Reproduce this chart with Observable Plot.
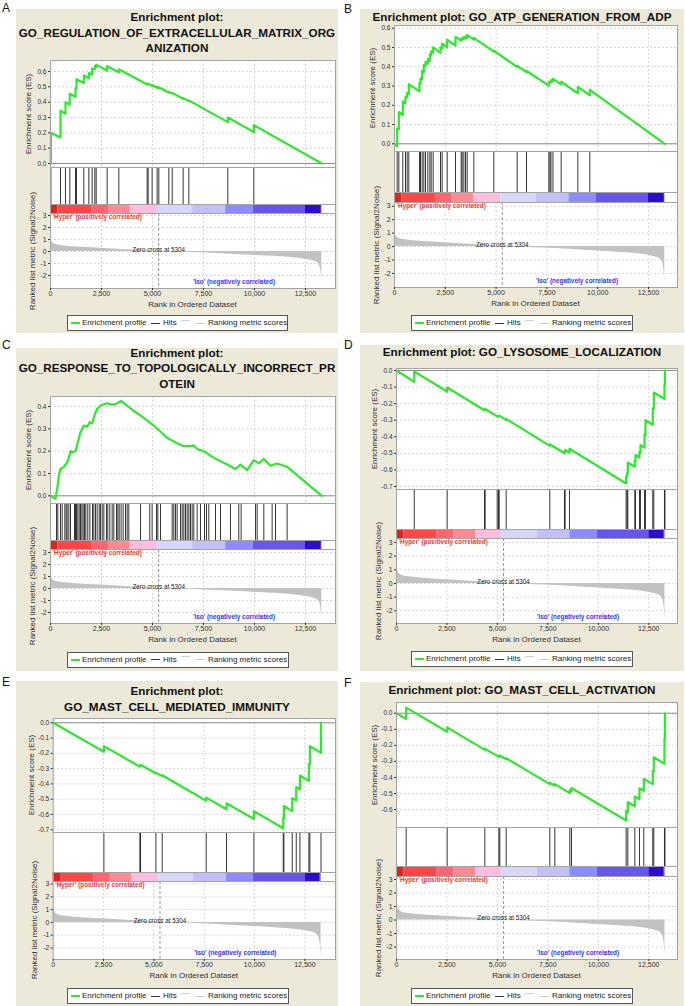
<!DOCTYPE html>
<html><head><meta charset="utf-8">
<script src="https://cdn.jsdelivr.net/npm/d3@7"></script>
<script src="https://cdn.jsdelivr.net/npm/@observablehq/plot@0.6"></script>
<style>
body{margin:0;background:#fff;font-family:"Liberation Sans",Arial,sans-serif;}
#root{position:relative;width:685px;height:1006px;overflow:hidden;background:#fff;}
</style></head><body><div id="root"></div>
<script>
// ---------------- DATA ----------------
const xTicks = [0, 2500, 5000, 7500, 10000, 12500];
const rankTicks = [-2, -1, 0, 1, 2, 3];
const esTicksA = [0, 0.1, 0.2, 0.3, 0.4, 0.5, 0.6];
const esTicksB = [0, 0.1, 0.2, 0.3, 0.4, 0.5, 0.6];
const esTicksC = [0, 0.1, 0.2, 0.3, 0.4];
const esTicksD = [0, -0.1, -0.2, -0.3, -0.4, -0.5, -0.6, -0.7];
const esTicksE = [0, -0.1, -0.2, -0.3, -0.4, -0.5, -0.6, -0.7];
const esTicksF = [0, -0.1, -0.2, -0.3, -0.4, -0.5, -0.6];
const zeroCross = 5304;
const listSize = 13300;

const titleA = ["Enrichment plot:", "GO_REGULATION_OF_EXTRACELLULAR_MATRIX_ORG", "ANIZATION"];
const titleB = ["Enrichment plot: GO_ATP_GENERATION_FROM_ADP"];
const titleC = ["Enrichment plot:", "GO_RESPONSE_TO_TOPOLOGICALLY_INCORRECT_PR", "OTEIN"];
const titleD = ["Enrichment plot: GO_LYSOSOME_LOCALIZATION"];
const titleE = ["Enrichment plot:", "GO_MAST_CELL_MEDIATED_IMMUNITY"];
const titleF = ["Enrichment plot: GO_MAST_CELL_ACTIVATION"];

// ranked list metric (Signal2Noise)
const metricRank  = [0, 40, 82, 160, 245, 450, 817, 1634, 2451, 3300, 4085, 4902, 5304, 6300, 7353, 8987, 10621, 11765, 12582, 13000, 13150, 13230, 13270, 13300];
const metricValue = [1.2, 0.95, 0.8, 0.68, 0.6, 0.52, 0.45, 0.35, 0.28, 0.2, 0.13, 0.05, 0, -0.05, -0.11, -0.24, -0.38, -0.5, -0.68, -0.85, -1.05, -1.4, -1.9, -2.75];

// heat-map bar under the hits
const barBreaks = [0, 363, 2015, 2840, 3913, 5235, 6968, 8586, 9940, 12500, 13243, 13300];
const barColors = ["#dd2424", "#ff4646", "#ff6470", "#ff8a92", "#fcbde0", "#d7d7fb", "#c3bff9", "#8a8cff", "#6656ee", "#2c0cd0", "#5a14a6"];

// hits (rank positions of gene-set members)
const hitsA = [20, 490, 735, 947, 1226, 1274, 1634, 1879, 2042, 2173, 2239, 2778, 3349, 4738, 4787, 4983, 5228, 5310, 5800, 5964, 6502, 6781, 8693, 9967];
const hitsB = [131, 213, 410, 541, 623, 705, 1230, 1280, 1362, 1444, 1526, 1640, 1739, 1804, 1903, 2264, 2346, 2592, 3002, 3281, 3330, 3412, 3494, 3576, 3904, 4888, 6037, 6496, 7595, 7650, 7700, 7800, 8202, 9022, 9613];
const hitsC = [294, 360, 490, 572, 703, 768, 816, 899, 981, 1176, 1226, 1274, 1340, 1405, 1471, 1536, 1602, 1666, 1732, 1829, 1928, 2058, 2124, 2205, 2287, 2386, 2450, 2533, 2615, 2745, 2810, 2908, 3023, 3105, 3236, 3300, 3366, 3463, 3562, 3676, 3758, 3839, 4412, 4868, 4983, 5196, 5262, 5392, 5964, 6046, 6127, 6209, 6372, 6454, 6536, 6617, 6699, 6781, 6862, 6944, 7025, 7189, 7352, 7549, 7646, 7761, 8088, 8333, 8823, 9231, 9346, 10048, 10130, 10457, 10865, 11029, 11601];
const hitsD = [880, 2510, 4359, 4392, 4987, 5053, 5086, 5433, 7596, 8322, 8355, 8570, 11377, 11427, 11460, 11807, 11840, 12038, 12087, 12285, 12335, 12698, 12748, 13276, 13300];
const hitsE = [2517, 4305, 4338, 5099, 5414, 7599, 8609, 9967, 11424, 11457, 11871, 12070, 12252, 12699, 12748, 13300];
const hitsF = [479, 2510, 4376, 5069, 5119, 5433, 7596, 7844, 8587, 8670, 11377, 11460, 11807, 12038, 12252, 12698, 12748, 13276, 13300];

// running enrichment score, [rank, ES] vertices
const esA = [[0,0],[20,0],[20,0.2],[490,0.17],[490,0.345],[735,0.325],[735,0.4],[947,0.385],[947,0.455],[1226,0.435],[1226,0.49],[1274,0.49],[1274,0.55],[1634,0.525],[1634,0.575],[1879,0.555],[1879,0.59],[2042,0.58],[2042,0.62],[2173,0.615],[2173,0.635],[2239,0.63],[2239,0.645],[2778,0.605],[2778,0.635],[3349,0.595],[3349,0.615],[4738,0.515],[4738,0.52],[4787,0.516],[4787,0.521],[4983,0.507],[4983,0.512],[5228,0.494],[5228,0.499],[5310,0.493],[5310,0.498],[5800,0.463],[5800,0.468],[5964,0.456],[5964,0.461],[6502,0.422],[6502,0.427],[6781,0.407],[6781,0.412],[8693,0.27],[8693,0.3],[9967,0.205],[9967,0.25],[13300,0]];
const esB = [[0,0],[131,-0.014],[131,0.08],[213,0.075],[213,0.165],[410,0.15],[410,0.22],[541,0.21],[541,0.245],[623,0.24],[623,0.265],[705,0.258],[705,0.31],[1230,0.272],[1230,0.315],[1280,0.31],[1280,0.34],[1362,0.335],[1362,0.38],[1444,0.372],[1444,0.41],[1526,0.405],[1526,0.425],[1640,0.415],[1640,0.44],[1739,0.43],[1739,0.465],[1804,0.46],[1804,0.48],[1903,0.473],[1903,0.5],[2264,0.472],[2264,0.5],[2346,0.495],[2346,0.52],[2592,0.5],[2592,0.54],[3002,0.51],[3002,0.555],[3281,0.535],[3281,0.545],[3330,0.541],[3330,0.55],[3412,0.544],[3412,0.553],[3494,0.547],[3494,0.556],[3576,0.55],[3576,0.565],[3904,0.541],[3904,0.55],[4888,0.478],[4888,0.483],[6037,0.399],[6037,0.405],[6496,0.372],[6496,0.378],[7595,0.302],[7595,0.322],[7700,0.318],[7700,0.33],[7800,0.325],[7800,0.337],[8202,0.308],[8202,0.322],[9022,0.262],[9022,0.295],[9613,0.252],[9613,0.28],[13300,0]];
const esC = [[0,0],[245,-0.013],[327,0.03],[408,0.09],[490,0.12],[653,0.13],[816,0.15],[899,0.17],[981,0.2],[1062,0.195],[1226,0.2],[1340,0.24],[1471,0.285],[1634,0.315],[1797,0.31],[1928,0.33],[2042,0.325],[2157,0.36],[2287,0.39],[2450,0.405],[2615,0.41],[2778,0.415],[2941,0.41],[3186,0.41],[3463,0.425],[3676,0.41],[4084,0.38],[4493,0.355],[5065,0.315],[5718,0.26],[6209,0.235],[6536,0.222],[7025,0.225],[7189,0.21],[7516,0.2],[8006,0.17],[8659,0.14],[9068,0.12],[9314,0.14],[9640,0.115],[9967,0.16],[10212,0.145],[10457,0.165],[10783,0.135],[11110,0.145],[11437,0.135],[11601,0.13],[13300,0]];
const esD = [[0,0],[880,-0.068],[880,-0.006],[2510,-0.127],[2510,-0.103],[4359,-0.24],[4359,-0.235],[4392,-0.237],[4392,-0.232],[4987,-0.277],[4987,-0.273],[5053,-0.278],[5053,-0.274],[5086,-0.276],[5086,-0.272],[5433,-0.298],[5433,-0.292],[7596,-0.455],[7596,-0.445],[8322,-0.499],[8322,-0.488],[8355,-0.49],[8355,-0.48],[8570,-0.496],[8570,-0.472],[11377,-0.682],[11377,-0.64],[11427,-0.644],[11427,-0.618],[11460,-0.62],[11460,-0.555],[11807,-0.581],[11807,-0.545],[11840,-0.547],[11840,-0.51],[12038,-0.525],[12038,-0.49],[12087,-0.494],[12087,-0.45],[12285,-0.465],[12285,-0.385],[12335,-0.389],[12335,-0.3],[12698,-0.327],[12698,-0.228],[12748,-0.232],[12748,-0.133],[13276,-0.172],[13276,-0.085],[13300,-0.087],[13300,0]];
const esE = [[0,0],[2517,-0.19],[2517,-0.153],[4305,-0.287],[4305,-0.28],[4338,-0.282],[4338,-0.275],[5099,-0.332],[5099,-0.326],[5414,-0.349],[5414,-0.343],[7599,-0.51],[7599,-0.49],[8609,-0.566],[8609,-0.527],[9967,-0.63],[9967,-0.578],[11424,-0.69],[11424,-0.624],[11457,-0.626],[11457,-0.545],[11871,-0.578],[11871,-0.493],[12070,-0.508],[12070,-0.421],[12252,-0.435],[12252,-0.345],[12699,-0.38],[12699,-0.268],[12748,-0.272],[12748,-0.153],[13300,-0.196],[13300,0]];
const esF = [[0,0],[479,-0.036],[479,0.035],[2510,-0.115],[2510,-0.088],[4376,-0.228],[4376,-0.221],[5069,-0.272],[5069,-0.266],[5119,-0.27],[5119,-0.263],[5433,-0.287],[5433,-0.28],[7596,-0.442],[7596,-0.432],[7844,-0.451],[7844,-0.442],[8587,-0.498],[8587,-0.48],[8670,-0.486],[8670,-0.466],[11377,-0.668],[11377,-0.61],[11460,-0.616],[11460,-0.554],[11807,-0.58],[11807,-0.519],[12038,-0.536],[12038,-0.467],[12252,-0.483],[12252,-0.409],[12698,-0.442],[12698,-0.357],[12748,-0.361],[12748,-0.274],[13276,-0.314],[13276,-0.16],[13300,-0.162],[13300,0]];

// ---------------- LAYOUT ----------------
const FONT = '"Liberation Sans", Arial, sans-serif';
const beige = "#ECE9D8";
const green = "#2ee82e";
const gridColor = "#d6d6d6";
const frameColor = "#a4a4a4";
const root = document.getElementById("root");

const panels = [
  {letter:"A", letterXY:[2,1.5], title:titleA, titleY:[16.7,32.5,47.8], hits:hitsA, es:esA, esTicks:esTicksA,
   box:[16,9,322,324], plotL:50, plotR:335, xMax:13971, esTop:60, esBot:167, hitsBot:204, barBot:213, rankBot:288,
   esDom:[-0.026,0.672], rankDom:[-3.08,3.17], legend:[67,315,221,16]},
  {letter:"B", letterXY:[344,2.5], title:titleB, titleY:[16.5], hits:hitsB, es:esB, esTicks:esTicksB,
   box:[360,9,324,324], plotL:394, plotR:677, xMax:13927, esTop:25, esBot:151, hitsBot:192, barBot:202, rankBot:287,
   esDom:[-0.04,0.614], rankDom:[-3.05,3.28], legend:[411,315,222,16]},
  {letter:"C", letterXY:[2,338.5], title:titleC, titleY:[352.5,368.3,384.2], hits:hitsC, es:esC, esTicks:esTicksC,
   box:[16,348,322,323], plotL:50, plotR:335, xMax:13971, esTop:396, esBot:503, hitsBot:540, barBot:549, rankBot:623,
   esDom:[-0.0345,0.445], rankDom:[-2.92,3.25], legend:[67,651.5,222,16]},
  {letter:"D", letterXY:[344,338.5], title:titleD, titleY:[352], hits:hitsD, es:esD, esTicks:esTicksD,
   box:[360,345,324,326], plotL:396, plotR:677, xMax:13922, esTop:368, esBot:489, hitsBot:529, barBot:538, rankBot:623,
   esDom:[-0.718,0.012], rankDom:[-2.93,3.29], legend:[411,651,222,16]},
  {letter:"E", letterXY:[2,676], title:titleE, titleY:[691,707], hits:hitsE, es:esE, esTicks:esTicksE,
   box:[16,681,322,325], plotL:52.7, plotR:335, xMax:14020, esTop:718, esBot:832, hitsBot:872, barBot:881, rankBot:959,
   esDom:[-0.718,0.028], rankDom:[-2.9,3.2], legend:[67,988,222,16]},
  {letter:"F", letterXY:[344,677], title:titleF, titleY:[690.3], hits:hitsF, es:esF, esTicks:esTicksF,
   box:[360,682,324,324], plotL:396, plotR:677, xMax:13922, esTop:702, esBot:827, hitsBot:866, barBot:876, rankBot:959,
   esDom:[-0.712,0.067], rankDom:[-2.92,3.22], legend:[411,988,222,16]}
];

function addDiv(parent, css, text) {
  const d = document.createElement("div");
  Object.assign(d.style, {position: "absolute"}, css);
  if (text != null) d.textContent = text;
  parent.appendChild(d);
  return d;
}
function place(svg, x, y) {
  svg.style.position = "absolute";
  svg.style.left = x + "px";
  svg.style.top = y + "px";
  svg.style.maxWidth = "none";
  root.appendChild(svg);
}

const metricData = metricRank.map((r, i) => ({r, v: metricValue[i]}));
const barData = barColors.map((c, i) => ({x1: barBreaks[i], x2: barBreaks[i + 1], color: c}));

function drawPanel(p) {
  const [bx, by, bw, bh] = p.box;
  addDiv(root, {left: p.letterXY[0] + "px", top: p.letterXY[1] + "px", fontSize: "12px", lineHeight: "12px", color: "#111", fontFamily: FONT}, p.letter);
  addDiv(root, {left: bx + "px", top: by + "px", width: bw + "px", height: bh + "px", background: beige});
  p.title.forEach((t, i) => addDiv(root, {left: bx + "px", width: bw + "px", top: (p.titleY[i] - 6.9) + "px", lineHeight: "14px",
    fontSize: "11.7px", fontWeight: "bold", textAlign: "center", whiteSpace: "nowrap", color: "#111", fontFamily: FONT}, t));

  const mL = p.plotL - bx, mR = bx + bw - p.plotR;
  const style = {background: "transparent", fontFamily: FONT, fontSize: "6.5px", color: "#333", overflow: "visible"};
  const base = {width: bw, marginLeft: mL, marginRight: mR, marginTop: 0, marginBottom: 0, style};

  // Enrichment score plot
  const esData = p.es.map(([r, v]) => ({r, v}));
  const esPlot = Plot.plot({...base, height: p.esBot - p.esTop,
    x: {domain: [0, p.xMax], axis: null},
    y: {domain: p.esDom, axis: null},
    marks: [
      Plot.frame({fill: "white", stroke: "none"}),
      Plot.gridX(xTicks, {stroke: gridColor, strokeOpacity: 1, strokeDasharray: "2,2"}),
      Plot.gridY(p.esTicks, {stroke: gridColor, strokeOpacity: 1, strokeDasharray: "2,2"}),
      Plot.ruleY([0], {stroke: "#8c8c8c"}),
      Plot.line(esData, {x: "r", y: "v", stroke: green, strokeWidth: 2.2}),
      Plot.frame({stroke: frameColor}),
      Plot.axisY(p.esTicks, {tickSize: 2, tickPadding: 2, tickFormat: d => d.toFixed(1), label: null, fontSize: 6.5})
    ]});
  place(esPlot, bx, p.esTop);

  // Hits strip
  const hitsPlot = Plot.plot({...base, height: p.hitsBot - p.esBot,
    x: {domain: [0, p.xMax], axis: null},
    marks: [
      Plot.frame({fill: "white", stroke: "none"}),
      Plot.ruleX(p.hits, {x: d => d, stroke: "#1e1e1e", strokeWidth: 0.9}),
      Plot.frame({stroke: frameColor})
    ]});
  place(hitsPlot, bx, p.esBot);

  // Heat-map bar
  const barPlot = Plot.plot({...base, height: p.barBot - p.hitsBot,
    x: {domain: [0, p.xMax], axis: null},
    color: {type: "identity"},
    marks: [
      Plot.frame({fill: "white", stroke: "none"}),
      Plot.rect(barData, {x1: "x1", x2: "x2", fill: "color"}),
      Plot.frame({stroke: frameColor})
    ]});
  place(barPlot, bx, p.hitsBot);

  // Ranked list metric
  const rankPlot = Plot.plot({...base, height: p.rankBot - p.barBot + 14, marginBottom: 14,
    x: {domain: [0, p.xMax]},
    y: {domain: p.rankDom},
    marks: [
      Plot.frame({fill: "white", stroke: "none"}),
      Plot.gridX(xTicks, {stroke: gridColor, strokeOpacity: 1, strokeDasharray: "2,2"}),
      Plot.gridY(rankTicks, {stroke: gridColor, strokeOpacity: 1, strokeDasharray: "2,2"}),
      Plot.areaY(metricData, {x: "r", y: "v", fill: "#c2c2c2", curve: "monotone-x"}),
      Plot.ruleX([zeroCross], {stroke: "#9a9a9a", strokeDasharray: "3,2"}),
      Plot.text([zeroCross], {x: d => d, y: 0, text: d => `Zero cross at ${d}`, dy: -1.8, fontSize: 6.3, fill: "#222"}),
      Plot.text(["'Hyper' (positively correlated)"], {frameAnchor: "top-left", dx: 2, dy: 1, lineAnchor: "top", textAnchor: "start", fill: "#ff3333", fontWeight: "bold", fontSize: 6.4}),
      Plot.text(["'Iso' (negatively correlated)"], {frameAnchor: "bottom", dx: 41, dy: -7, lineAnchor: "middle", fill: "#3333ff", fontWeight: "bold", fontSize: 6.4}),
      Plot.frame({stroke: frameColor}),
      Plot.axisY(rankTicks, {tickSize: 2, tickPadding: 2, tickFormat: d => String(d), label: null, fontSize: 6.8}),
      Plot.axisX(xTicks, {tickSize: 2, tickPadding: 1, tickFormat: d3.format(","), label: null, fontSize: 7})
    ]});
  place(rankPlot, bx, p.barBot);

  // axis titles
  addDiv(root, {left: (p.plotL - 22) + "px", top: ((p.esTop + p.esBot) / 2) + "px", transform: "translate(-50%,-50%) rotate(-90deg)",
    fontSize: "8px", lineHeight: "9px", whiteSpace: "nowrap", color: "#333", fontFamily: FONT}, "Enrichment score (ES)");
  addDiv(root, {left: (p.plotL - 18.5) + "px", top: ((p.barBot + p.rankBot) / 2) + "px", transform: "translate(-50%,-50%) rotate(-90deg)",
    fontSize: "8px", lineHeight: "9px", whiteSpace: "nowrap", color: "#333", fontFamily: FONT}, "Ranked list metric (Signal2Noise)");
  addDiv(root, {left: ((p.plotL + p.plotR) / 2) + "px", top: (p.rankBot + 16) + "px", transform: "translate(-50%,-50%)",
    fontSize: "8px", lineHeight: "9px", whiteSpace: "nowrap", color: "#333", fontFamily: FONT}, "Rank in Ordered Dataset");

  // legend
  const [lx, ly, lw, lh] = p.legend;
  const lg = addDiv(root, {left: lx + "px", top: ly + "px", width: lw + "px", height: lh + "px", background: "white",
    border: "1px solid #555", boxSizing: "border-box", fontFamily: FONT, fontSize: "8px", color: "#222"});
  const mid = lh / 2 - 1;
  addDiv(lg, {left: "3px", top: (mid - 1) + "px", width: "9px", height: "2px", background: green});
  addDiv(lg, {left: "14px", top: "0px", lineHeight: (lh - 2) + "px", whiteSpace: "nowrap"}, "Enrichment profile");
  addDiv(lg, {left: "83px", top: (mid - 0.5) + "px", width: "9px", height: "1px", background: "#333"});
  addDiv(lg, {left: "95px", top: "0px", lineHeight: (lh - 2) + "px", whiteSpace: "nowrap"}, "Hits");
  addDiv(lg, {left: "113px", top: (mid - 3.5) + "px", width: "9px", height: "1px", background: "#d0d0d0"});
  addDiv(lg, {left: "128px", top: (mid - 0.5) + "px", width: "9px", height: "1px", background: "#c8c8c8"});
  addDiv(lg, {left: "140px", top: "0px", lineHeight: (lh - 2) + "px", whiteSpace: "nowrap"}, "Ranking metric scores");
}

panels.forEach(drawPanel);
</script>
</body></html>
